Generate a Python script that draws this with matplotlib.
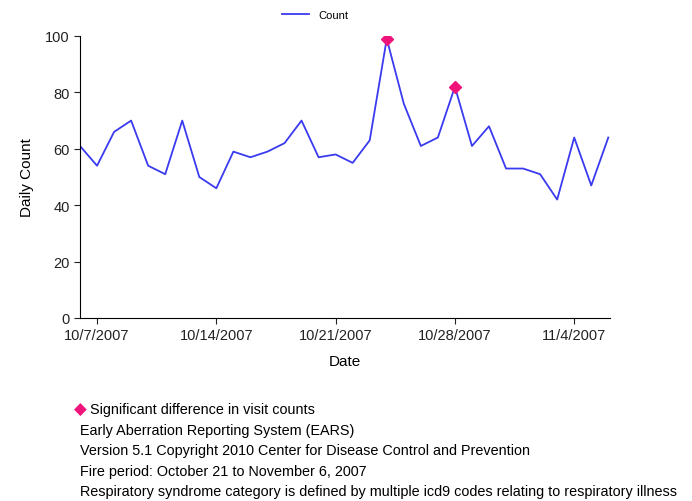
import datetime as dt
import matplotlib
matplotlib.use("Agg")
import matplotlib.pyplot as plt
import matplotlib.dates as mdates
from matplotlib.ticker import FuncFormatter

start = dt.date(2007, 10, 6)
counts = [61, 54, 66, 70, 54, 51, 70, 50, 46, 59, 57, 59, 62, 70, 57, 58, 55, 63,
          99, 76, 61, 64, 82, 61, 68, 53, 53, 51, 42, 64, 47, 64]
dates = [start + dt.timedelta(days=i) for i in range(len(counts))]
signif_dates = [dt.date(2007, 10, 24), dt.date(2007, 10, 28)]
signif_counts = [99, 82]
tick_dates = [dt.date(2007, 10, 7), dt.date(2007, 10, 14), dt.date(2007, 10, 21),
              dt.date(2007, 10, 28), dt.date(2007, 11, 4)]
notes = ["Early Aberration Reporting System (EARS)",
         "Version 5.1 Copyright 2010 Center for Disease Control and Prevention",
         "Fire period: October 21 to November 6, 2007",
         "Respiratory syndrome category is defined by multiple icd9 codes relating to respiratory illness"]

plt.rcParams['font.family'] = ['Liberation Sans', 'DejaVu Sans']

fig = plt.figure(figsize=(6.92, 5.02), dpi=100)
ax = fig.add_axes([80/692, 1 - 319/502, 530/692, 282/502])

line, = ax.plot(dates, counts, color="#3a3af0", linewidth=1.3, label="Count")
ax.plot(signif_dates, signif_counts, linestyle="none", marker="D", markersize=6,
        color="#f0147a")

ax.set_ylim(0, 100)
ax.set_xlim(mdates.date2num(start), mdates.date2num(dt.date(2007, 11, 6)) + 0.1)
ax.set_yticks([0, 20, 40, 60, 80, 100])
ax.set_xticks(tick_dates)
ax.xaxis.set_major_formatter(FuncFormatter(
    lambda v, p: "{d.month}/{d.day}/{d.year}".format(d=mdates.num2date(v))))
ax.spines['top'].set_visible(False)
ax.spines['right'].set_visible(False)
ax.tick_params(labelsize=10.5, length=4, colors="#222222")
ax.set_xlabel("Date", fontsize=11, labelpad=8)
ax.set_ylabel("Daily Count", fontsize=11, labelpad=8)

fig.legend(handles=[line], loc="center", bbox_to_anchor=(315/692, 1 - 16/502),
           frameon=False, fontsize=8, handlelength=2.5)

fig.text(74/692, 1 - 410/502, "\u25C6", color="#f0147a", fontsize=12,
         va="center", ha="left", family="DejaVu Sans")
fig.text(90/692, 1 - 410/502, "Significant difference in visit counts",
         fontsize=10.4, va="center", ha="left")
for i, t in enumerate(notes):
    fig.text(80/692, 1 - (431 + i*20.5)/502, t, fontsize=10.4, va="center", ha="left")

fig.savefig("out.png", dpi=100)
